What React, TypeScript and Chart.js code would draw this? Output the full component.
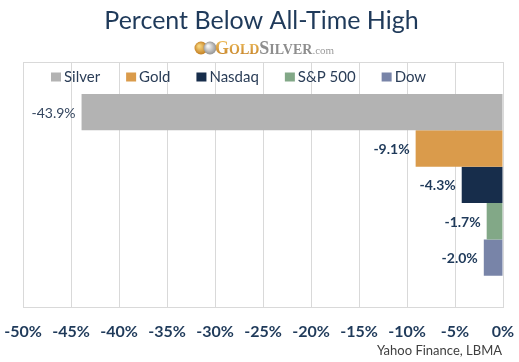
import React, { useEffect, useRef } from "react";
import { Chart, registerables } from "chart.js";

Chart.register(...registerables);

const categories = [""];
const seriesNames = ["Silver", "Gold", "Nasdaq", "S&P 500", "Dow"];
const seriesValues = [-43.9, -9.1, -4.3, -1.7, -2.0];
const seriesColors = ["#B3B3B3", "#DA9B4B", "#172D4B", "#82A887", "#7884A8"];
const xTicks = [-50, -45, -40, -35, -30, -25, -20, -15, -10, -5, 0];

const NAVY = "#1F3A5A";
const FONT = "Lato, 'Noto Sans', sans-serif";

const decorPlugin = {
  id: "decor",
  afterDraw(chart: any) {
    const ctx = chart.ctx as CanvasRenderingContext2D;
    const W = chart.width;
    ctx.save();
    // Title
    ctx.fillStyle = NAVY;
    ctx.font = `25px ${FONT}`;
    ctx.textAlign = "center";
    ctx.textBaseline = "alphabetic";
    ctx.fillText("Percent Below All-Time High", W / 2 + 2, 29);

    // Logo: coins
    const cy = 48;
    const g1 = ctx.createRadialGradient(199, cy - 2, 1, 201, cy, 7);
    g1.addColorStop(0, "#F6D27A");
    g1.addColorStop(1, "#C07A1E");
    ctx.fillStyle = g1;
    ctx.beginPath();
    ctx.arc(201, cy, 6.5, 0, Math.PI * 2);
    ctx.fill();
    const g2 = ctx.createRadialGradient(208, cy - 2, 1, 210, cy, 7);
    g2.addColorStop(0, "#F2F2F2");
    g2.addColorStop(1, "#8C8C8C");
    ctx.fillStyle = g2;
    ctx.beginPath();
    ctx.arc(210, cy, 6.5, 0, Math.PI * 2);
    ctx.fill();

    // Logo text
    ctx.textAlign = "left";
    const base = 54;
    let x = 215;
    const seg = (t: string, size: number, color: string | CanvasGradient) => {
      ctx.font = `bold ${size}px 'Liberation Serif', 'DejaVu Serif', serif`;
      ctx.fillStyle = color;
      ctx.fillText(t, x, base);
      x += ctx.measureText(t).width;
    };
    const gold = ctx.createLinearGradient(0, 40, 0, 55);
    gold.addColorStop(0, "#F0C060");
    gold.addColorStop(1, "#C8862A");
    seg("G", 18, gold);
    seg("OLD", 14, gold);
    seg("S", 18, "#8E8E8E");
    seg("ILVER", 14, "#8E8E8E");
    ctx.font = `11px 'Liberation Serif', 'DejaVu Serif', serif`;
    ctx.fillStyle = "#9A9A9A";
    ctx.fillText(".com", x, base);

    // Legend
    ctx.font = `15px ${FONT}`;
    ctx.textBaseline = "middle";
    let lx = 51;
    const ly = 77;
    chart.data.datasets.forEach((ds: any) => {
      ctx.fillStyle = ds.backgroundColor;
      ctx.fillRect(lx, ly - 4.5, 10, 9);
      ctx.fillStyle = "#2A3D57";
      ctx.fillText(ds.label, lx + 13, ly);
      lx += 13 + ctx.measureText(ds.label).width + 26;
    });

    // Source
    ctx.textBaseline = "alphabetic";
    ctx.font = `13px ${FONT}`;
    ctx.fillStyle = "#404040";
    ctx.textAlign = "right";
    ctx.fillText("Yahoo Finance, LBMA", 502, 355);
    ctx.restore();
  },
  afterDatasetsDraw(chart: any) {
    const ctx = chart.ctx as CanvasRenderingContext2D;
    ctx.save();
    ctx.textAlign = "right";
    ctx.textBaseline = "middle";
    chart.data.datasets.forEach((ds: any, i: number) => {
      const meta = chart.getDatasetMeta(i);
      const el = meta.data[0];
      if (!el) return;
      const v = ds.data[0] as number;
      const left = Math.min(el.x, el.base);
      if (i === 0) {
        ctx.font = `14px ${FONT}`;
        ctx.fillStyle = "#34465F";
      } else {
        ctx.font = `bold 14px ${FONT}`;
        ctx.fillStyle = NAVY;
      }
      ctx.fillText(v.toFixed(1) + "%", left - 6, el.y + 1);
    });
    ctx.restore();
  },
};

export default function App() {
  const ref = useRef<HTMLCanvasElement>(null);
  useEffect(() => {
    document.body.style.margin = "0";
    const canvas = ref.current!;
    const chart = new Chart(canvas, {
      type: "bar",
      data: {
        labels: categories,
        datasets: seriesNames.map((n, i) => ({
          label: n,
          data: [seriesValues[i]],
          backgroundColor: seriesColors[i],
          borderWidth: 0,
          categoryPercentage: 0.74,
          barPercentage: 1,
        })),
      },
      options: {
        indexAxis: "y",
        animation: false,
        responsive: false,
        devicePixelRatio: 1,
        layout: { padding: { top: 62, left: 23, right: 16, bottom: 21 } },
        scales: {
          x: {
            min: -50,
            max: 0,
            afterBuildTicks: (axis: any) => {
              axis.ticks = xTicks.map((v) => ({ value: v }));
            },
            ticks: {
              padding: 0,
              color: NAVY,
              font: { family: FONT, size: 16, weight: "bold" },
              callback: (v: any) => v + "%",
              maxRotation: 0,
              autoSkip: false,
            },
            grid: {
              color: "#D9D9D9",
              drawTicks: true,
              tickLength: 14,
              tickColor: "rgba(0,0,0,0)",
            },
            border: { display: false },
          },
          y: {
            ticks: { display: false },
            grid: { color: "#D9D9D9", drawTicks: false, offset: true },
            border: { display: false },
            afterFit: (s: any) => {
              s.width = 0;
            },
          },
        },
        plugins: {
          legend: { display: false },
          tooltip: { enabled: false },
        },
      },
      plugins: [decorPlugin],
    } as any);
    return () => chart.destroy();
  }, []);
  return (
    <div style={{ position: "absolute", left: 0, top: 0, width: 519, height: 362, background: "#fff" }}>
      <canvas ref={ref} width={519} height={362} />
    </div>
  );
}
